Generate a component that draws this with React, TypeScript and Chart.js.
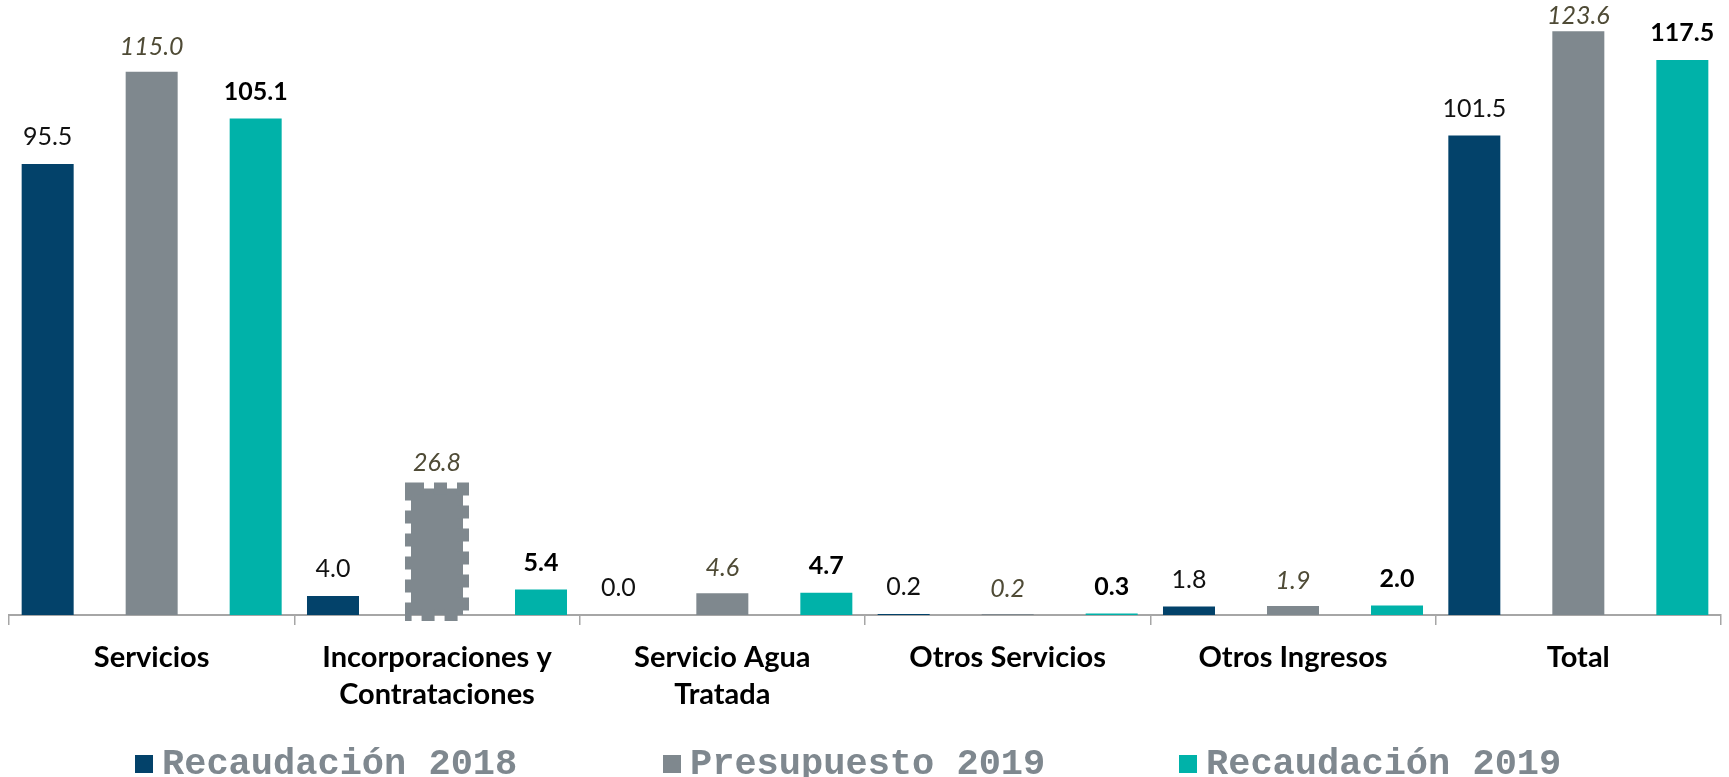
import React, { useEffect, useRef } from "react";
import { Chart, registerables } from "chart.js";

Chart.register(...registerables);

const categories: (string | string[])[] = [
  "Servicios",
  ["Incorporaciones y", "Contrataciones"],
  ["Servicio Agua", "Tratada"],
  "Otros Servicios",
  "Otros Ingresos",
  "Total",
];
const seriesNames = ["Recaudación 2018", "Presupuesto 2019", "Recaudación 2019"];
const recaudacion2018 = [95.5, 4.0, 0.0, 0.2, 1.8, 101.5];
const presupuesto2019 = [115.0, 26.8, 4.6, 0.2, 1.9, 123.6];
const recaudacion2019 = [105.1, 5.4, 4.7, 0.3, 2.0, 117.5];
const brokenBar = { dataset: 1, index: 1 };

const COLORS = ["#03426A", "#7F888E", "#00B2A9"];
const LABEL_FONTS = [
  { font: "normal 400 25px Lato", color: "#111111", offset: 27 },
  { font: "italic 400 25px Lato", color: "#4F4B36", offset: 25 },
  { font: "normal 700 25px Lato", color: "#000000", offset: 27 },
];
const LABEL_MIN_Y = 16;
const LEGEND_X = [135, 663, 1179];

const valueLabels = {
  id: "valueLabels",
  afterDatasetsDraw(chart: any) {
    const ctx = chart.ctx;
    // dashed outline of the broken bar
    const bm = chart.getDatasetMeta(brokenBar.dataset);
    const be = bm.data[brokenBar.index];
    if (be) {
      ctx.save();
      ctx.strokeStyle = COLORS[1];
      ctx.lineWidth = 12;
      ctx.setLineDash([13, 10]);
      ctx.strokeRect(be.x - be.width / 2, be.y, be.width, be.base - be.y);
      ctx.restore();
    }
    chart.data.datasets.forEach((ds: any, di: number) => {
      const meta = chart.getDatasetMeta(di);
      const st = LABEL_FONTS[di];
      meta.data.forEach((el: any, i: number) => {
        const v = ds.data[i];
        ctx.save();
        ctx.font = st.font;
        ctx.fillStyle = st.color;
        ctx.textAlign = "center";
        ctx.textBaseline = "middle";
        const y = Math.max(LABEL_MIN_Y, el.y - st.offset);
        ctx.fillText(v.toFixed(1), el.x, y);
        ctx.restore();
      });
    });
  },
  afterDraw(chart: any) {
    const ctx = chart.ctx;
    chart.data.datasets.forEach((ds: any, di: number) => {
      const x = LEGEND_X[di];
      ctx.save();
      ctx.fillStyle = ds.backgroundColor;
      ctx.fillRect(x, 755, 18, 18);
      ctx.font = "bold 37px 'Liberation Mono'";
      ctx.fillStyle = "#7F888F";
      ctx.textAlign = "left";
      ctx.textBaseline = "alphabetic";
      ctx.fillText(ds.label, x + 27, 774);
      ctx.restore();
    });
  },
};

export default function App() {
  const ref = useRef<HTMLCanvasElement>(null);
  useEffect(() => {
    if (!ref.current) return;
    const data = [recaudacion2018, presupuesto2019, recaudacion2019];
    const chart = new Chart(ref.current, {
      type: "bar",
      data: {
        labels: categories,
        datasets: data.map((d, i) => ({
          label: seriesNames[i],
          data: d,
          backgroundColor: COLORS[i],
          borderWidth: 0,
          categoryPercentage: 1.0935,
          barPercentage: 0.5,
        })),
      },
      options: {
        animation: false,
        responsive: true,
        maintainAspectRatio: false,
        devicePixelRatio: 1,
        layout: { padding: { left: 9, right: 8, top: 1, bottom: 0 } },
        plugins: {
          legend: { display: false },
          tooltip: { enabled: false },
        },
        scales: {
          x: {
            grid: {
              display: true,
              drawOnChartArea: false,
              drawTicks: true,
              tickLength: 10,
              color: "#A6A6A6",
              lineWidth: 1.5,
              offset: true,
            },
            border: { display: true, color: "#A6A6A6", width: 2 },
            ticks: {
              color: "#000000",
              font: { family: "Lato", weight: "bold", size: 29, lineHeight: 1.276 },
              padding: 14,
              maxRotation: 0,
              autoSkip: false,
            },
            afterFit: (scale: any) => {
              scale.height = 162;
            },
          },
          y: {
            display: false,
            min: 0,
            max: 130,
          },
        },
      },
      plugins: [valueLabels],
    });
    return () => chart.destroy();
  }, []);
  return (
    <div style={{ position: "fixed", top: 0, left: 0, width: "1729px", height: "777px", background: "#fff" }}>
      <canvas ref={ref} />
    </div>
  );
}
